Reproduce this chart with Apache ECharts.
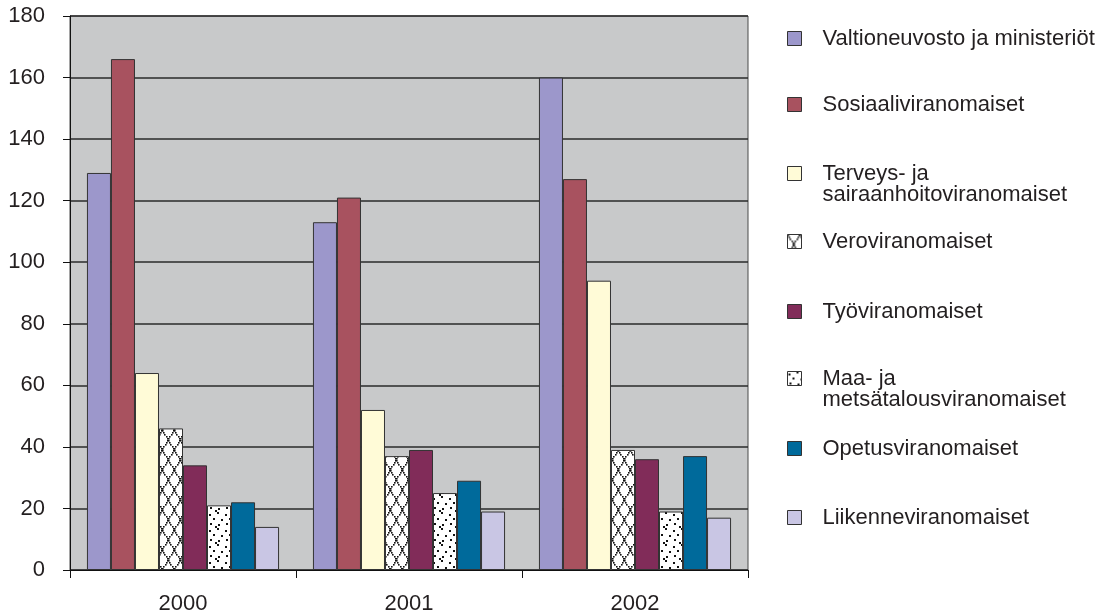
<!DOCTYPE html>
<html>
<head>
<meta charset="utf-8">
<script src="https://cdn.jsdelivr.net/npm/echarts@6/dist/echarts.min.js"></script>
<style>
  html, body { margin: 0; padding: 0; background: #fff; }
  #chart { width: 1113px; height: 615px; }
</style>
</head>
<body>
<div id="chart"></div>
<script>
// Data: employees per authority group, years 2000–2002
const years = ['2000', '2001', '2002'];
const seriesNames = [
  'Valtioneuvosto ja ministeriöt',
  'Sosiaaliviranomaiset',
  'Terveys- ja\nsairaanhoitoviranomaiset',
  'Veroviranomaiset',
  'Työviranomaiset',
  'Maa- ja\nmetsätalousviranomaiset',
  'Opetusviranomaiset',
  'Liikenneviranomaiset'
];
const valtioneuvosto = [129, 113, 160];
const sosiaali = [166, 121, 127];
const terveys = [64, 52, 94];
const vero = [46, 37, 39];
const tyo = [34, 39, 36];
const maa = [21, 25, 19];
const opetus = [22, 29, 37];
const liikenne = [14, 19, 17];
const yTicks = [0, 20, 40, 60, 80, 100, 120, 140, 160, 180];

// Fill patterns
function latticePattern() {
  const c = document.createElement('canvas');
  c.width = 12; c.height = 20;
  const g = c.getContext('2d');
  g.fillStyle = '#fff';
  g.fillRect(0, 0, 12, 20);
  g.fillStyle = '#111';
  // pixel-stepped diagonals forming an X per tile
  for (let i = 0; i < 20; i += 2) {
    const x = Math.round(i * 12 / 20);
    g.fillRect(x, i, 1.6, 1.6);
    g.fillRect(11 - x, i, 1.6, 1.6);
  }
  return { image: c, repeat: 'repeat' };
}
function dotPattern() {
  const c = document.createElement('canvas');
  c.width = 16; c.height = 16;
  const g = c.getContext('2d');
  g.fillStyle = '#fff';
  g.fillRect(0, 0, 16, 16);
  g.fillStyle = '#111';
  const pts = [[1, 2], [9, 0], [5, 6], [13, 7], [2, 11], [10, 12], [7, 14]];
  pts.forEach(p => g.fillRect(p[0], p[1], 2, 2));
  return { image: c, repeat: 'repeat' };
}

const fills = [
  '#9c97cb', '#a8525f', '#fffbd7', latticePattern(),
  '#812c59', dotPattern(), '#006a9b', '#c9c6e4'
];
const values = [valtioneuvosto, sosiaali, terveys, vero, tyo, maa, opetus, liikenne];

const chart = echarts.init(document.getElementById('chart'), null, { renderer: 'canvas' });

const font = '"Liberation Sans", Arial, sans-serif';
// vertical centre of each legend entry's first text line
const legendLineY = [38, 104, 173, 241, 311, 378, 448, 517];
const LH = 21;

const legends = seriesNames.map((name, i) => {
  const twoLine = name.indexOf('\n') >= 0;
  return {
    orient: 'vertical',
    left: 782,
    top: twoLine ? legendLineY[i] - 1.5 * LH - 5 : legendLineY[i] - LH / 2 - 5,
    icon: 'rect',
    itemWidth: 14,
    itemHeight: 14,
    itemGap: 0,
    selectedMode: false,
    data: [name],
    // leading blank line keeps the marker level with the first text line
    formatter: n => (n.indexOf('\n') >= 0 ? '\n' + n : n),
    itemStyle: { borderColor: '#333', borderWidth: 1 },
    textStyle: {
      fontFamily: font,
      fontSize: 22,
      color: '#231f20',
      lineHeight: LH,
      padding: [0, 0, 0, 16]
    }
  };
});

chart.setOption({
  animation: false,
  backgroundColor: '#fff',
  grid: {
    left: 70, right: 365, top: 16, bottom: 44,
    show: true,
    backgroundColor: '#c8c9ca',
    borderColor: '#4a4a4a',
    borderWidth: 1
  },
  legend: legends,
  xAxis: {
    type: 'category',
    data: years,
    axisLine: { lineStyle: { color: '#111', width: 1 } },
    axisTick: { show: true, length: 8, lineStyle: { color: '#111' } },
    axisLabel: { fontFamily: font, fontSize: 22, color: '#231f20', margin: 23 }
  },
  yAxis: {
    type: 'value',
    min: 0, max: 180, interval: 20,
    axisLine: { show: true, lineStyle: { color: '#111', width: 1 } },
    axisTick: { show: true, length: 7, lineStyle: { color: '#111' } },
    axisLabel: {
      fontFamily: font, fontSize: 22, color: '#231f20', margin: 25,
      formatter: v => (yTicks.indexOf(v) >= 0 ? String(v) : '')
    },
    splitLine: { lineStyle: { color: '#2a2a2a', width: 1.5 } }
  },
  series: seriesNames.map((name, i) => ({
    name: name,
    type: 'bar',
    data: values[i],
    barGap: '0%',
    barCategoryGap: '15%',
    itemStyle: { color: fills[i], borderColor: '#333', borderWidth: 1 }
  }))
});
</script>
</body>
</html>
